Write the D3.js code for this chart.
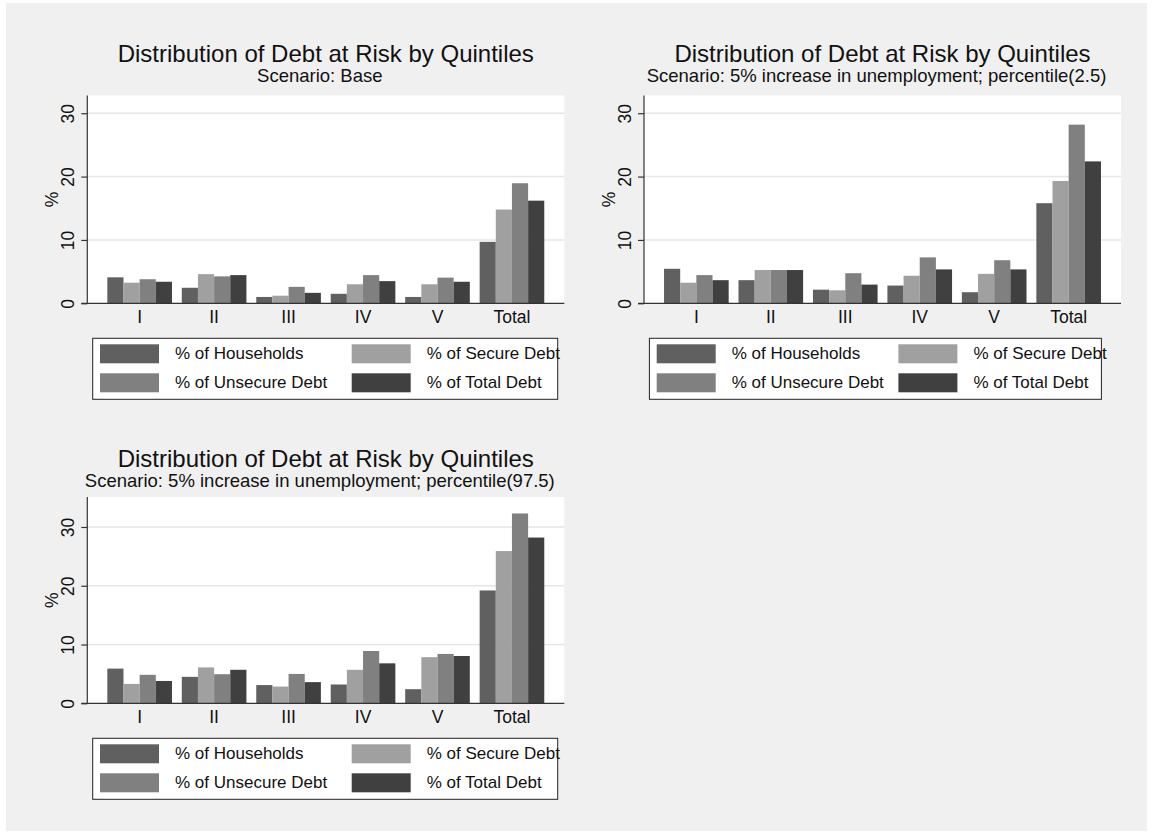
<!DOCTYPE html>
<html>
<head>
<meta charset="utf-8">
<script src="https://cdn.jsdelivr.net/npm/d3@7/dist/d3.min.js"></script>
<style>
  html, body { margin: 0; padding: 0; background: #ffffff; }
  svg { display: block; font-family: "Liberation Sans", Arial, Helvetica, sans-serif; }
</style>
</head>
<body>
<svg id="chart" width="1153" height="835"></svg>
<script>
// Quintile categories and series
const categories = ["I", "II", "III", "IV", "V", "Total"];
const seriesNames = ["% of Households", "% of Secure Debt", "% of Unsecure Debt", "% of Total Debt"];
const seriesColors = ["#606060", "#a0a0a0", "#808080", "#404040"];
const yTicks = [0, 10, 20, 30];

const chartTitle = "Distribution of Debt at Risk by Quintiles";
const subtitles = [
  "Scenario: Base",
  "Scenario: 5% increase in unemployment; percentile(2.5)",
  "Scenario: 5% increase in unemployment; percentile(97.5)"
];

// Scenario: Base
const baseHouseholds = [4.1, 2.45, 1.0, 1.5, 1.0, 9.7];
const baseSecure     = [3.25, 4.6, 1.2, 3.0, 3.0, 14.8];
const baseUnsecure   = [3.8, 4.25, 2.6, 4.45, 4.05, 18.95];
const baseTotal      = [3.4, 4.45, 1.65, 3.5, 3.4, 16.2];

// Scenario: +5% unemployment, percentile 2.5
const p025Households = [5.45, 3.65, 2.15, 2.8, 1.75, 15.8];
const p025Secure     = [3.25, 5.25, 2.05, 4.35, 4.65, 19.3];
const p025Unsecure   = [4.45, 5.25, 4.75, 7.25, 6.8, 28.2];
const p025Total      = [3.65, 5.25, 2.95, 5.35, 5.35, 22.4];

// Scenario: +5% unemployment, percentile 97.5
const p975Households = [5.9, 4.5, 3.1, 3.2, 2.4, 19.2];
const p975Secure     = [3.3, 6.1, 2.85, 5.7, 7.85, 25.9];
const p975Unsecure   = [4.85, 4.95, 5.0, 8.9, 8.4, 32.3];
const p975Total      = [3.8, 5.7, 3.6, 6.8, 8.05, 28.2];

const scenarioSeries = [
  [baseHouseholds, baseSecure, baseUnsecure, baseTotal],
  [p025Households, p025Secure, p025Unsecure, p025Total],
  [p975Households, p975Secure, p975Unsecure, p975Total]
];

// Panel layout (plot region of each sub-graph)
const panels = [
  { left: 87.3, top: 95.5, bottom: 303.3, yMax: 32.8, legW: 465, legCol2: 259, subY: 82 },
  { left: 644,  top: 95.5, bottom: 303.3, yMax: 32.8, legW: 452, legCol2: 249, subY: 82 },
  { left: 87.3, top: 497,  bottom: 703.3, yMax: 35.1, legW: 465, legCol2: 259, subY: 487 }
];
const plotW = 477;

const svg = d3.select("#chart");

// Graph region background
svg.append("rect")
  .attr("x", 6).attr("y", 3)
  .attr("width", 1141).attr("height", 828)
  .attr("fill", "#f0f0f0");

panels.forEach((p, i) => {
  const g = svg.append("g");
  const series = scenarioSeries[i];
  const right = p.left + plotW;
  const cx = (p.left + right) / 2;

  const x = d3.scaleBand().domain(categories)
    .range([p.left, right]).paddingInner(0.132).paddingOuter(0.269);
  const xs = d3.scaleBand().domain(d3.range(seriesNames.length))
    .range([0, x.bandwidth()]).padding(0);
  const y = d3.scaleLinear().domain([0, p.yMax]).range([p.bottom, p.top]);

  // Titles
  g.append("text").attr("x", cx).attr("y", p.subY - 20)
    .attr("text-anchor", "middle").attr("font-size", 24).attr("fill", "#111")
    .text(chartTitle);
  g.append("text").attr("x", cx - 6).attr("y", p.subY)
    .attr("text-anchor", "middle").attr("font-size", 18.5).attr("fill", "#111")
    .text(subtitles[i]);

  // Plot region
  g.append("rect").attr("x", p.left).attr("y", p.top)
    .attr("width", plotW).attr("height", p.bottom - p.top).attr("fill", "#fff");

  // Gridlines
  g.selectAll(".grid").data(yTicks.filter(t => t > 0)).enter().append("line")
    .attr("x1", p.left).attr("x2", right)
    .attr("y1", d => y(d)).attr("y2", d => y(d))
    .attr("stroke", "#e6e6e6").attr("stroke-width", 1.5);

  // Bars
  categories.forEach((c, ci) => {
    series.forEach((vals, si) => {
      g.append("rect")
        .attr("x", x(c) + xs(si)).attr("width", xs.bandwidth())
        .attr("y", y(vals[ci])).attr("height", y(0) - y(vals[ci]))
        .attr("fill", seriesColors[si]);
    });
  });

  // Y axis
  const yAxis = d3.axisLeft(y).tickValues(yTicks).tickSize(6).tickPadding(0).tickFormat(d3.format("d"));
  const ya = g.append("g").attr("transform", `translate(${p.left},0)`).call(yAxis);
  ya.select(".domain").attr("d", `M0,${p.top}V${p.bottom}`).attr("stroke", "#333").attr("stroke-width", 1.2);
  ya.selectAll(".tick line").attr("stroke", "#333").attr("stroke-width", 1.2);
  ya.selectAll(".tick text")
    .attr("font-size", 17.5).attr("fill", "#111")
    .attr("font-family", "Liberation Sans, Arial, sans-serif")
    .attr("x", 0).attr("y", 0).attr("dy", null)
    .attr("text-anchor", "middle")
    .attr("dominant-baseline", "central")
    .attr("transform", "translate(-19,0) rotate(-90)");

  // Y axis title
  g.append("text")
    .attr("transform", `translate(${p.left - 35},${(p.top + p.bottom) / 2}) rotate(-90)`)
    .attr("text-anchor", "middle").attr("dominant-baseline", "central")
    .attr("font-size", 17.5).attr("fill", "#111").text("%");

  // X axis
  const xAxis = d3.axisBottom(x).tickSize(0).tickPadding(0);
  const xa = g.append("g").attr("transform", `translate(0,${p.bottom})`).call(xAxis);
  xa.select(".domain").attr("d", `M${p.left - 6},0H${right}`).attr("stroke", "#333").attr("stroke-width", 1.2);
  xa.selectAll(".tick text")
    .attr("font-size", 17.5).attr("fill", "#111")
    .attr("font-family", "Liberation Sans, Arial, sans-serif")
    .attr("y", 20).attr("dy", null);

  // Legend
  const lx = p.left + 5.4, ly = p.bottom + 35;
  g.append("rect").attr("x", lx).attr("y", ly).attr("width", p.legW).attr("height", 61)
    .attr("fill", "#fff").attr("stroke", "#222").attr("stroke-width", 1);
  seriesNames.forEach((name, si) => {
    const col = si % 2, row = Math.floor(si / 2);
    const swX = col === 0 ? lx + 7.3 : lx + p.legCol2;
    const sy = ly + 6 + row * 29;
    g.append("rect").attr("x", swX).attr("y", sy).attr("width", 59).attr("height", 19)
      .attr("fill", seriesColors[si]);
    g.append("text").attr("x", swX + 75).attr("y", sy + 9.5)
      .attr("dominant-baseline", "central").attr("font-size", 17).attr("fill", "#111")
      .text(name);
  });
});
</script>
</body>
</html>
